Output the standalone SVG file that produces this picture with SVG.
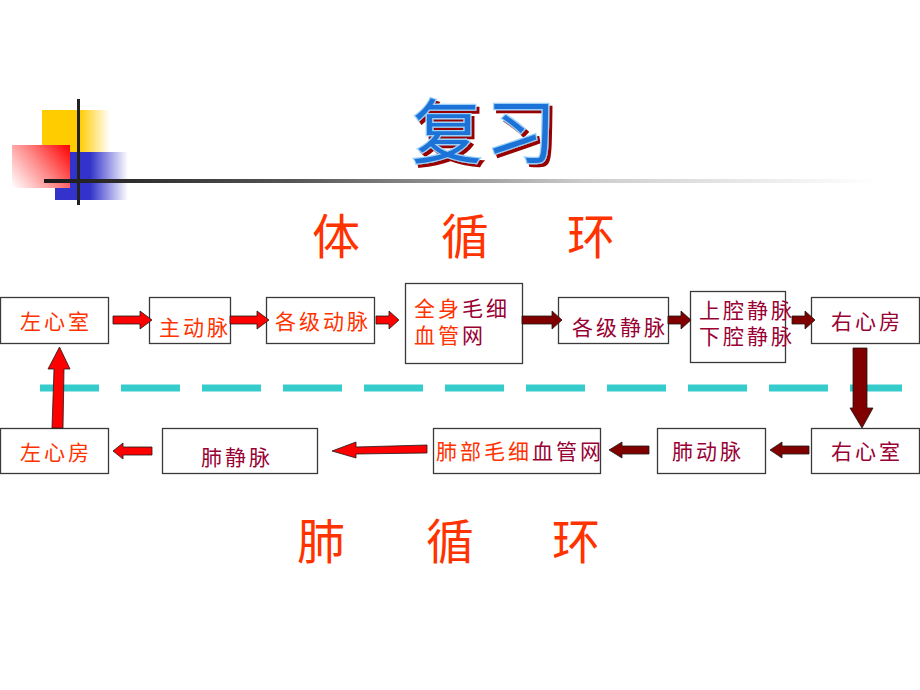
<svg xmlns="http://www.w3.org/2000/svg" width="920" height="690" viewBox="0 0 920 690">
<defs>
<linearGradient id="gYel" gradientUnits="userSpaceOnUse" x1="42" y1="0" x2="110" y2="0"><stop offset="0" stop-color="#FFCC00"/><stop offset="0.55" stop-color="#FFCC00"/><stop offset="1" stop-color="#FFFFFF"/></linearGradient>
<linearGradient id="gBlue" gradientUnits="userSpaceOnUse" x1="55" y1="0" x2="128" y2="0"><stop offset="0" stop-color="#3333CC"/><stop offset="0.48" stop-color="#3333CC"/><stop offset="1" stop-color="#FFFFFF"/></linearGradient>
<linearGradient id="gRed" gradientUnits="userSpaceOnUse" x1="70" y1="145" x2="14" y2="190"><stop offset="0" stop-color="#FF0000"/><stop offset="0.5" stop-color="#FF8888"/><stop offset="1" stop-color="#FFFFFF"/></linearGradient>
<linearGradient id="gLine" gradientUnits="userSpaceOnUse" x1="44" y1="0" x2="875" y2="0"><stop offset="0" stop-color="#1a1a1a"/><stop offset="0.3" stop-color="#555555"/><stop offset="0.65" stop-color="#cccccc"/><stop offset="1" stop-color="#ffffff"/></linearGradient>
<filter id="sh" x="-10%" y="-10%" width="130%" height="130%">
<feOffset in="SourceAlpha" dx="3" dy="3" result="o"/>
<feFlood flood-color="#990000"/>
<feComposite in2="o" operator="in" result="s"/>
<feMerge><feMergeNode in="s"/><feMergeNode in="SourceGraphic"/></feMerge>
</filter>
</defs>
<style>
.box{fill:#fff;stroke:#3a3a3a;stroke-width:1.3}
.t{font-family:"Noto Sans CJK SC","Noto Sans CJK TC",sans-serif;font-size:21px;letter-spacing:3px}
.o{fill:#FF3300}
.d{fill:#990033}
.big{font-family:"Noto Sans CJK SC",sans-serif;font-size:48px;fill:#FF3300}
.ar{fill:#FF0000;stroke:#1a1a1a;stroke-width:0.8}
.ad{fill:#800000;stroke:#1a1a1a;stroke-width:0.8}
.ttl{font-family:"Noto Sans CJK SC",sans-serif;font-size:70px;letter-spacing:4px}
</style>
<rect width="920" height="690" fill="#fff"/>
<g id="decoration">
<rect x="42" y="110" width="68" height="42" fill="url(#gYel)"/>
<rect x="55" y="152" width="73" height="48" fill="url(#gBlue)"/>
<rect x="12" y="145" width="58" height="43" fill="url(#gRed)"/>
<rect x="77" y="99" width="3" height="106" fill="#222"/>
<rect x="44" y="179" width="831" height="4" fill="url(#gLine)"/>
</g>
<g id="title" filter="url(#sh)">
<text class="ttl" x="412" y="158" fill="#1a72d6" stroke="#9dd0f7" stroke-width="2.5" paint-order="stroke">复习</text>
</g>
<g id="heading-systemic">
<text class="big" x="312" y="254">体</text>
<text class="big" x="441" y="254">循</text>
<text class="big" x="567" y="254">环</text>
</g>
<g id="heading-pulmonary">
<text class="big" x="297" y="559">肺</text>
<text class="big" x="426" y="559">循</text>
<text class="big" x="552" y="559">环</text>
</g>
<g id="divider">
<line x1="40" y1="388" x2="902" y2="388" stroke="#36CCCC" stroke-width="7" stroke-dasharray="59 22"/>
</g>
<g id="n-lv"><rect class="box" x="0.5" y="297.5" width="108" height="46"/><text class="t o" x="20" y="329">左心室</text></g>
<g id="n-aorta"><rect class="box" x="149.5" y="297.5" width="81" height="46"/><text class="t o" x="159" y="335">主动脉</text></g>
<g id="n-arteries"><rect class="box" x="266.5" y="297.5" width="108" height="46"/><text class="t o" x="275" y="329">各级动脉</text></g>
<g id="n-capillaries"><rect class="box" x="405.5" y="283.5" width="117" height="80"/>
<text class="t"><tspan class="o" x="414" y="316">全身</tspan><tspan class="d">毛细</tspan><tspan class="o" x="414" y="343">血管</tspan><tspan class="d">网</tspan></text></g>
<g id="n-veins"><rect class="box" x="558.5" y="297.5" width="110" height="46"/><text class="t d" x="572" y="335">各级静脉</text></g>
<g id="n-venacava"><rect class="box" x="690.5" y="291.5" width="95" height="71"/><text class="t d"><tspan x="699" y="318">上腔静脉</tspan><tspan x="699" y="344">下腔静脉</tspan></text></g>
<g id="n-ra"><rect class="box" x="811.5" y="297.5" width="108" height="46"/><text class="t d" x="831" y="329">右心房</text></g>
<g id="n-rv"><rect class="box" x="811.5" y="428.5" width="108" height="45"/><text class="t d" x="831" y="459">右心室</text></g>
<g id="n-pa"><rect class="box" x="657.5" y="428.5" width="108" height="45"/><text class="t d" x="672" y="459">肺动脉</text></g>
<g id="n-pcap"><rect class="box" x="433.5" y="428.5" width="167" height="45"/>
<text class="t" x="436" y="459" letter-spacing="2.3"><tspan class="o">肺部毛细</tspan><tspan class="d">血管网</tspan></text></g>
<g id="n-pv"><rect class="box" x="162.5" y="428.5" width="155" height="45"/><text class="t d" x="201" y="465">肺静脉</text></g>
<g id="n-la"><rect class="box" x="0.5" y="428.5" width="108" height="45"/><text class="t o" x="20" y="460">左心房</text></g>
<g id="connectors">
<polygon class="ar" points="113,316 140,316 140,311 152,320 140,329 140,324 113,324"/>
<polygon class="ar" points="230,316 257,316 257,311 269,320 257,329 257,324 230,324"/>
<polygon class="ar" points="376,316 389,316 389,311 399,320 389,329 389,324 376,324"/>
<polygon class="ad" points="522,316 552,316 552,311 562,320 552,329 552,324 522,324"/>
<polygon class="ad" points="668,316 681,316 681,311 691,320 681,329 681,324 668,324"/>
<polygon class="ad" points="792,316 805,316 805,311 815,320 805,329 805,324 792,324"/>
<polygon class="ad" points="853,348 867,348 867,408 873,408 862,428 850,408 853,408"/>
<polygon class="ad" points="809,446 782,446 782,442 770,450 782,458 782,454 809,454"/>
<polygon class="ad" points="649,446 622,446 622,442 609,450 622,458 622,454 649,454"/>
<polygon class="ar" points="427,445 356,447 356,442 332,451 356,458 356,454 427,453"/>
<polygon class="ar" points="152,447 123,447 123,443 113,451 123,459 123,455 152,455"/>
<polygon class="ar" points="52,428 63,428 64,369 70,369 59.5,347 48,369 54,369"/>
</g>
</svg>
